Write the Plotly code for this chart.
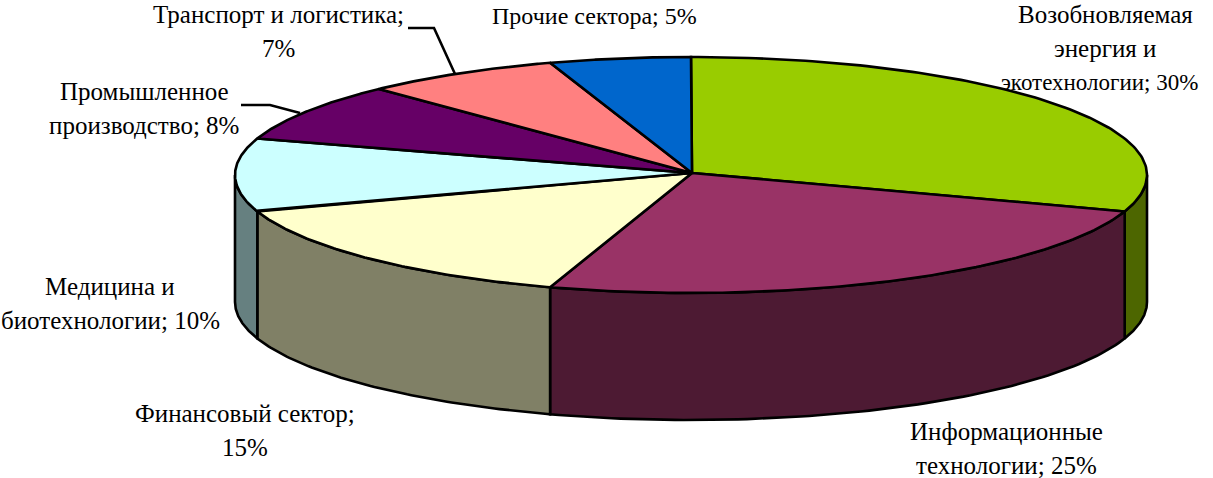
import numpy as np
import plotly.graph_objects as go

names = ["Возобновляемая энергия и экотехнологии", "Информационные технологии", "Финансовый сектор",
         "Медицина и биотехнологии", "Промышленное производство", "Транспорт и логистика", "Прочие сектора"]
values = [30, 25, 15, 10, 8, 7, 5]
label_lines = [["Возобновляемая", "энергия и", "экотехнологии; 30%"],
               ["Информационные", "технологии; 25%"],
               ["Финансовый сектор;", "15%"],
               ["Медицина и", "биотехнологии; 10%"],
               ["Промышленное", "производство; 8%"],
               ["Транспорт и логистика;", "7%"],
               ["Прочие сектора; 5%"]]
top_colors = ["#99CC00", "#993366", "#FFFFCC", "#CCFFFF", "#660066", "#FF8080", "#0066CC"]
side_colors = ["#4D6600", "#4D1A33", "#808066", "#668080", "#330033", "#804040", "#003366"]
label_xy = [(1105, 14), (1006, 431), (245, 413), (110, 286), (144, 91), (278, 14), (594, 16)]
label_size = [25, 25, 25, 25, 25, 25, 24]
LINE_STEP = 34

CX, CY, RX, RY, DEPTH = 691, 175, 456, 118, 127
APEX_X, APEX_Y = 692, 173
LW = 2.6


def pt(deg, dy=0.0):
    a = np.radians(deg)
    return CX + RX * np.sin(a), CY - RY * np.cos(a) + dy


fig = go.Figure()
edges = np.concatenate([[0], np.cumsum(values)]) * 3.6

# side walls of the front half
for i in range(len(values)):
    lo, hi = max(edges[i], 90), min(edges[i + 1], 270)
    if lo >= hi:
        continue
    t = np.linspace(lo, hi, 80)
    x1, y1 = pt(t)
    x2, y2 = pt(t[::-1], DEPTH)
    fig.add_trace(go.Scatter(x=np.r_[x1, x2, x1[0]], y=np.r_[y1, y2, y1[0]], mode="lines", fill="toself",
                             fillcolor=side_colors[i], line=dict(color="black", width=LW),
                             name=names[i], hoverinfo="skip", showlegend=False))

# top faces
for i in range(len(values)):
    t = np.linspace(edges[i], edges[i + 1], 120)
    x1, y1 = pt(t)
    fig.add_trace(go.Scatter(x=np.r_[APEX_X, x1, APEX_X], y=np.r_[APEX_Y, y1, APEX_Y], mode="lines", fill="toself",
                             fillcolor=top_colors[i], line=dict(color="black", width=LW),
                             name=names[i], text=f"{values[i]}%", hoverinfo="name+text", showlegend=False))

# leader lines
fig.add_trace(go.Scatter(x=[408, 434, 455], y=[28, 28, 74], mode="lines", line=dict(color="black", width=LW),
                         hoverinfo="skip", showlegend=False))
fig.add_trace(go.Scatter(x=[241, 270, 300], y=[105, 105, 113], mode="lines", line=dict(color="black", width=LW),
                         hoverinfo="skip", showlegend=False))

for lines, (x, y), size in zip(label_lines, label_xy, label_size):
    for k, line in enumerate(lines):
        # the longest line of the first label sits a little left and tighter, clear of the pie
        narrow = line.startswith("экотехнологии")
        fig.add_annotation(x=x - (6 if narrow else 0), y=y + k * LINE_STEP, text=line, showarrow=False,
                           xanchor="center", yanchor="middle",
                           font=dict(family="Liberation Serif", size=23 if narrow else size, color="black"))

fig.update_xaxes(range=[0, 1213], visible=False, fixedrange=True)
fig.update_yaxes(range=[478, 0], visible=False, fixedrange=True)
fig.update_layout(width=1213, height=478, margin=dict(l=0, r=0, t=0, b=0), paper_bgcolor="white",
                  plot_bgcolor="white", showlegend=False)
fig.write_html("out.html", config={"displayModeBar": False},
               post_script="document.body.style.margin='0';document.documentElement.style.overflow='hidden';")
